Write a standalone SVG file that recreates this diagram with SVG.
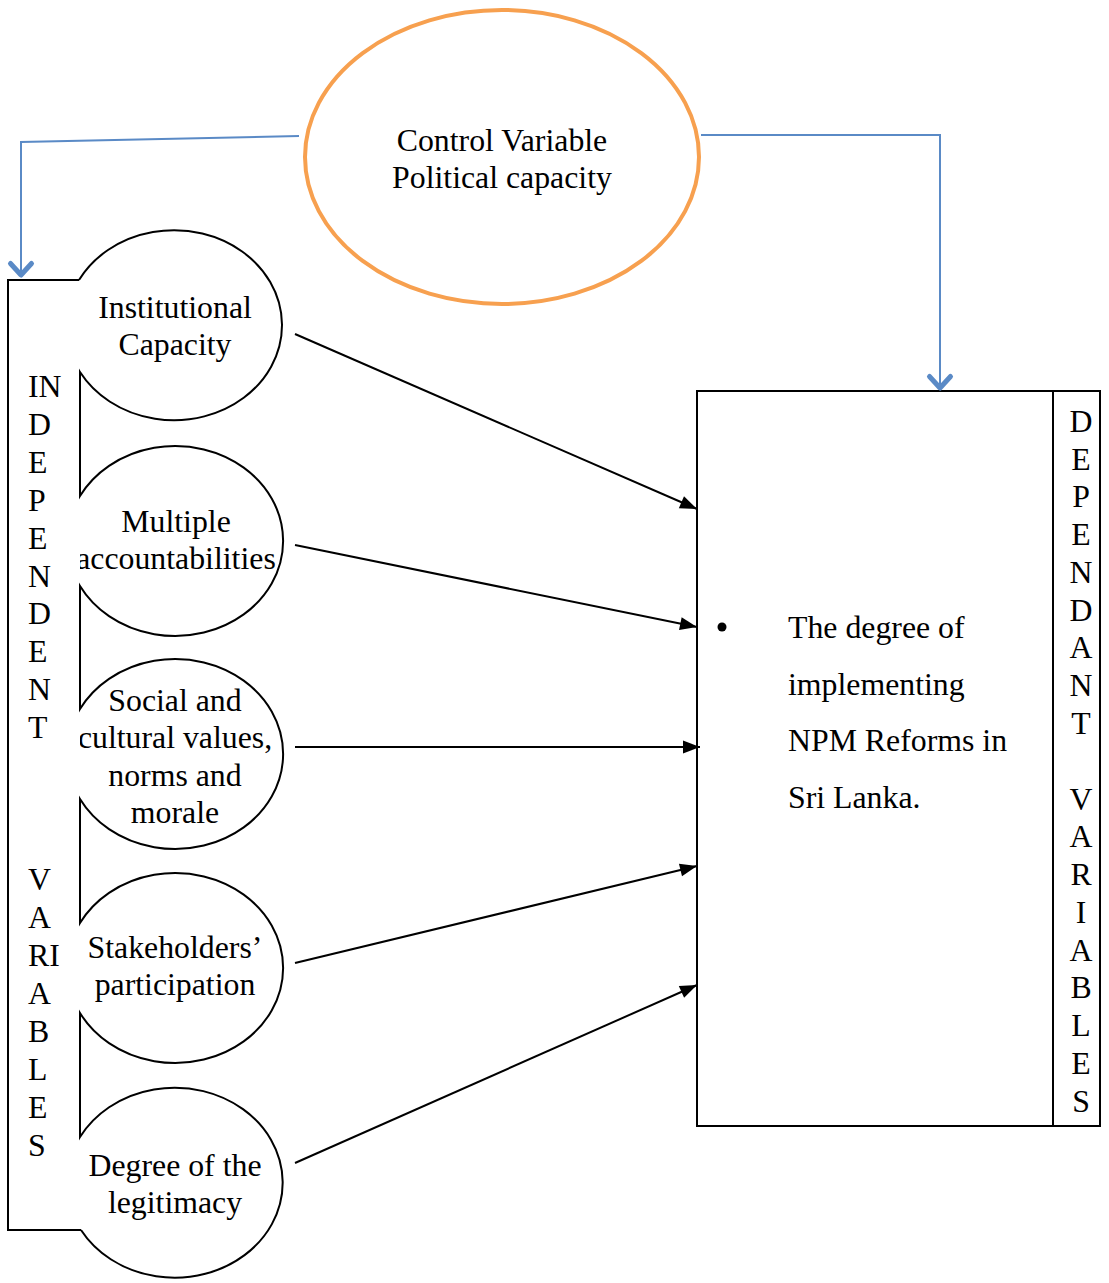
<svg xmlns="http://www.w3.org/2000/svg" width="1109" height="1283" viewBox="0 0 1109 1283">
<style>
  text { font-family: "Liberation Serif", "Times New Roman", serif; font-size: 31.8px; fill: #000; }
  .c { text-anchor: middle; }
  .outline { fill: none; stroke: #000; stroke-width: 2; }
  .ctrl { fill: none; stroke: #5A8AC6; stroke-width: 2; }
  .dep { fill: none; stroke: #000; stroke-width: 2; }
</style>
<defs>
  <marker id="chev" markerUnits="userSpaceOnUse" viewBox="-16 -16 32 32" markerWidth="32" markerHeight="32" refX="0" refY="0" orient="auto">
    <path d="M -11.5 -10.5 L 0 0 L -11.5 10.5" fill="none" stroke="#5A8AC6" stroke-width="5" stroke-linecap="round" stroke-linejoin="round"/>
  </marker>
  <marker id="tri" markerUnits="userSpaceOnUse" viewBox="-20 -10 22 20" markerWidth="22" markerHeight="20" refX="0" refY="0" orient="auto">
    <path d="M 0 0 L -17 -6.5 L -17 6.5 Z" fill="#000"/>
  </marker>
  <clipPath id="clipRight"><rect x="80" y="0" width="1029" height="1283"/></clipPath>
</defs>

<g id="control-variable">
  <ellipse cx="502" cy="157" rx="197" ry="147" fill="none" stroke="#F7A04F" stroke-width="4"/>
  <text class="c" x="502" y="151">Control Variable</text>
  <text class="c" x="502" y="188">Political capacity</text>
</g>

<g id="independent-variables">
  <path class="outline" d="M 79 280 L 8 280 L 8 1230 L 81 1230"/>
  <path class="outline" d="M 79 280 A 108 95 0 1 1 80 372 L 80 496 A 108 95 0 1 1 80 586 L 80 709 A 108 95 0 1 1 80 799 L 80 923 A 108 95 0 1 1 80 1013 L 80 1137 A 108 95 0 1 1 81 1230"/>
  <g id="indep-label">
    <text x="28" y="397">IN</text>
    <text x="28" y="435">D</text>
    <text x="28" y="473">E</text>
    <text x="28" y="511">P</text>
    <text x="28" y="549">E</text>
    <text x="28" y="587">N</text>
    <text x="28" y="624">D</text>
    <text x="28" y="662">E</text>
    <text x="28" y="700">N</text>
    <text x="28" y="738">T</text>
    <text x="28" y="890">V</text>
    <text x="28" y="928">A</text>
    <text x="28" y="966">RI</text>
    <text x="28" y="1004">A</text>
    <text x="28" y="1042">B</text>
    <text x="28" y="1080">L</text>
    <text x="28" y="1118">E</text>
    <text x="28" y="1156">S</text>
  </g>
</g>

<g id="node-institutional" clip-path="url(#clipRight)">
  <text class="c" x="175" y="318">Institutional</text>
  <text class="c" x="175" y="355">Capacity</text>
</g>
<g id="node-accountabilities" clip-path="url(#clipRight)">
  <text class="c" x="176" y="532">Multiple</text>
  <text class="c" x="176" y="569">accountabilities</text>
</g>
<g id="node-social" clip-path="url(#clipRight)">
  <text class="c" x="175" y="711">Social and</text>
  <text class="c" x="175" y="748">cultural values,</text>
  <text class="c" x="175" y="786">norms and</text>
  <text class="c" x="175" y="823">morale</text>
</g>
<g id="node-stakeholders" clip-path="url(#clipRight)">
  <text class="c" x="175" y="958">Stakeholders’</text>
  <text class="c" x="175" y="995">participation</text>
</g>
<g id="node-legitimacy" clip-path="url(#clipRight)">
  <text class="c" x="175" y="1176">Degree of the</text>
  <text class="c" x="175" y="1213">legitimacy</text>
</g>

<g id="dependent-variable">
  <rect class="dep" x="697" y="391" width="403" height="735"/>
  <line class="dep" x1="1053" y1="391" x2="1053" y2="1126"/>
  <circle cx="722" cy="627" r="4.5" fill="#000"/>
  <text x="788" y="638">The degree of</text>
  <text x="788" y="695">implementing</text>
  <text x="788" y="751">NPM Reforms in</text>
  <text x="788" y="808">Sri Lanka.</text>
  <g id="dep-label">
    <text class="c" x="1081" y="432">D</text>
    <text class="c" x="1081" y="470">E</text>
    <text class="c" x="1081" y="507">P</text>
    <text class="c" x="1081" y="545">E</text>
    <text class="c" x="1081" y="583">N</text>
    <text class="c" x="1081" y="621">D</text>
    <text class="c" x="1081" y="658">A</text>
    <text class="c" x="1081" y="696">N</text>
    <text class="c" x="1081" y="734">T</text>
    <text class="c" x="1081" y="810">V</text>
    <text class="c" x="1081" y="847">A</text>
    <text class="c" x="1081" y="885">R</text>
    <text class="c" x="1081" y="923">I</text>
    <text class="c" x="1081" y="961">A</text>
    <text class="c" x="1081" y="998">B</text>
    <text class="c" x="1081" y="1036">L</text>
    <text class="c" x="1081" y="1074">E</text>
    <text class="c" x="1081" y="1112">S</text>
  </g>
</g>

<g id="connectors">
  <polyline class="ctrl" points="299,136 21,142 21,275" marker-end="url(#chev)"/>
  <polyline class="ctrl" points="701,135 940,135 940,388" marker-end="url(#chev)"/>
  <g stroke="#000" stroke-width="2" fill="none">
    <line x1="295" y1="334" x2="697" y2="509" marker-end="url(#tri)"/>
    <line x1="295" y1="545" x2="697" y2="627" marker-end="url(#tri)"/>
    <line x1="295" y1="747" x2="700" y2="747" marker-end="url(#tri)"/>
    <line x1="295" y1="963" x2="697" y2="866" marker-end="url(#tri)"/>
    <line x1="295" y1="1163" x2="697" y2="985" marker-end="url(#tri)"/>
  </g>
</g>
</svg>
